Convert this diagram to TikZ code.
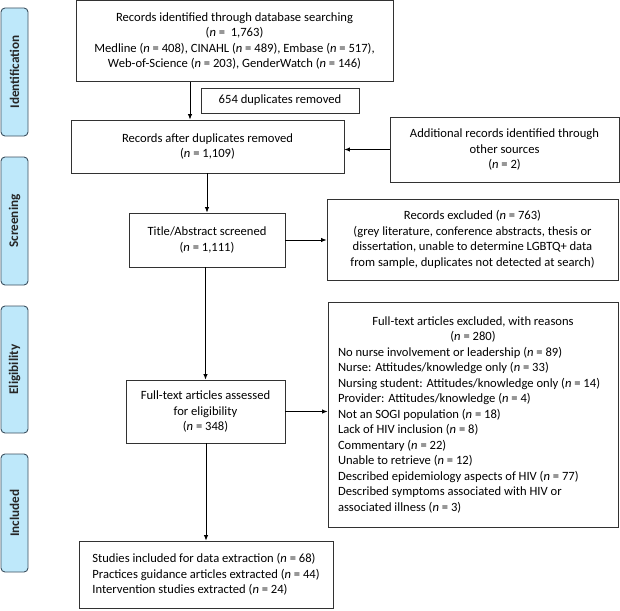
\documentclass[tikz,border=0pt]{standalone}
\usepackage{fontspec}
\setmainfont{Carlito}
\usetikzlibrary{arrows.meta,calc}
\definecolor{sidefill}{RGB}{190,232,250}
\definecolor{sidedraw}{RGB}{60,80,95}
\definecolor{boxdraw}{RGB}{50,50,50}
\newcommand{\nn}{\textit{n}}
\begin{document}
\begin{tikzpicture}[x=1pt,y=-1pt,
  box/.style={draw=boxdraw,line width=0.8pt,fill=white,inner sep=0pt,
    font=\fontsize{12.6}{15.5}\selectfont,align=center},
  side/.style={draw=sidedraw,line width=0.9pt,fill=sidefill,rounded corners=4pt,
    rotate=90,minimum height=27pt,inner sep=0pt,
    font=\fontsize{13.2}{15}\selectfont\bfseries,text=black!85},
  arr/.style={line width=0.9pt,-{Latex[length=5.5pt,width=4.5pt]}}]
\useasboundingbox (0,0) rectangle (620,610);

% side labels
\node[side,minimum width=128pt] (sid) at (14.5,72) {Identification};
\node[side,minimum width=128pt] (sscr) at (14.5,221) {Screening};
\node[side,minimum width=127pt] (selg) at (14.5,369.5) {Eligibility};
\node[side,minimum width=118pt] (sinc) at (14.5,513) {Included};

% boxes
\node[box,minimum width=317pt,minimum height=81pt] (b1) at (234.5,41)
  {Records identified through database searching\\
   (\nn\ =\ \ 1,763)\\
   Medline (\nn\ = 408), CINAHL (\nn\ = 489), Embase (\nn\ = 517),\\
   Web-of-Science (\nn\ = 203), GenderWatch (\nn\ = 146)};
\node[box,minimum width=158pt,minimum height=25pt] (b2) at (280,100.5)
  {654 duplicates removed};
\node[box,minimum width=273pt,minimum height=53pt] (b3) at (207.5,146.5)
  {Records after duplicates removed\\(\nn\ = 1,109)};
\node[box,minimum width=229pt,minimum height=65pt] (b4) at (504.5,149.5)
  {Additional records identified through\\other sources\\(\nn\ = 2)};
\node[box,minimum width=156pt,minimum height=54pt] (b5) at (207,240)
  {Title/Abstract screened\\(\nn\ = 1,111)};
\node[box,minimum width=291pt,minimum height=81pt] (b6) at (472.5,239.5)
  {Records excluded (\nn\ = 763)\\
   (grey literature, conference abstracts, thesis or\\
   dissertation, unable to determine LGBTQ+ data\\
   from sample, duplicates not detected at search)};
\node[box,minimum width=290pt,minimum height=225pt,align=left] (b7) at (473,414.5)
  {\makebox[270pt][c]{Full-text articles excluded, with reasons}\\
   \makebox[270pt][c]{(\nn\ = 280)}\\
   No nurse involvement or leadership (\nn\ = 89)\\
   Nurse: Attitudes/knowledge only (\nn\ = 33)\\
   Nursing student: Attitudes/knowledge only (\nn\ = 14)\\
   Provider: Attitudes/knowledge (\nn\ = 4)\\
   Not an SOGI population (\nn\ = 18)\\
   Lack of HIV inclusion (\nn\ = 8)\\
   Commentary (\nn\ = 22)\\
   Unable to retrieve (\nn\ = 12)\\
   Described epidemiology aspects of HIV (\nn\ = 77)\\
   Described symptoms associated with HIV or\\
   associated illness (\nn\ = 3)};
\node[box,minimum width=159pt,minimum height=63pt] (b8) at (205.5,411.5)
  {Full-text articles assessed\\for eligibility\\(\nn\ = 348)};
\node[box,minimum width=254pt,minimum height=67pt,align=left] (b9) at (206,574.5)
  {Studies included for data extraction (\nn\ = 68)\\
   Practices guidance articles extracted (\nn\ = 44)\\
   Intervention studies extracted (\nn\ = 24)};

% connectors
\coordinate (xa) at (190,0);
\draw[arr] (b1.south -| xa) -- (b3.north -| xa);
\draw[arr] (b4.west) -- (b4.west -| b3.east);
\draw[arr] (b3.south -| b5.north) -- (b5.north);
\draw[arr] (b5.east) -- (b5.east -| b6.west);
\draw[arr] (b5.south -| b8.north) -- (b8.north);
\draw[arr] (b8.east) -- (b8.east -| b7.west);
\draw[arr] (b8.south -| b9.north) -- (b9.north);
\end{tikzpicture}
\end{document}
